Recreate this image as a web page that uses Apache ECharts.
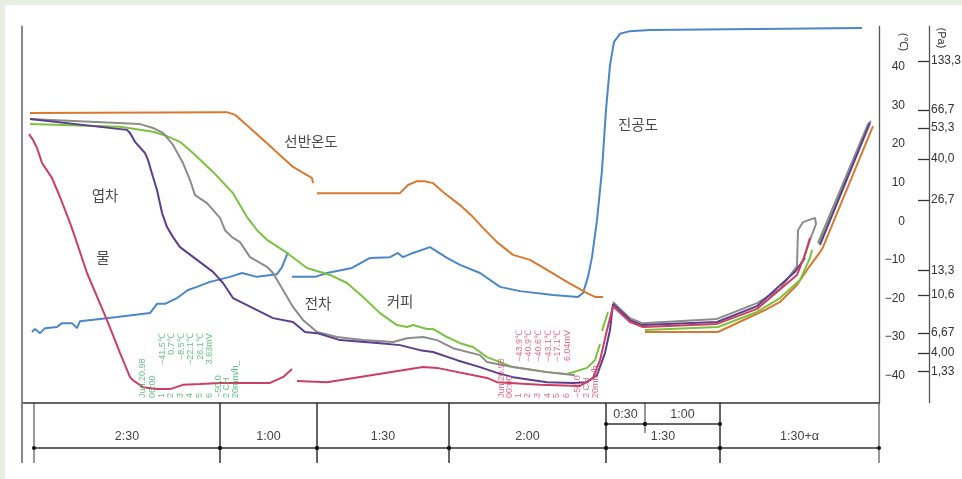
<!DOCTYPE html>
<html><head><meta charset="utf-8">
<script src="https://cdn.jsdelivr.net/npm/echarts@6/dist/echarts.min.js"></script>
<style>
html,body{margin:0;padding:0;background:#e9eee3;overflow:hidden;}
#panel{position:absolute;left:5px;top:5px;right:0;bottom:0;background:#fff;}
#chart{position:absolute;left:0;top:0;width:962px;height:479px;}
</style></head><body>
<div id="panel"></div><div id="chart"></div>
<script>
// ---- data (x: position along the process axis, y: temperature-equivalent in °C) ----
const shelfTemp = [[8,28.1],[205,28.3],[213,27.6],[228,24.2],[248,19.5],[271,14.1],[285,12.0],[290,11.2],[291,9.9],null,
  [295,7.3],[378,7.3],[386,9.4],[395,10.4],[403,10.4],[411,9.9],[421,7.6],[438,4.2],[451,1.1],[461,-1.7],[475,-5.4],[491,-8.7],[508,-10.0],[525,-12.6],[545,-15.7],[565,-18.6],[573,-19.6],[581,-19.6],null,
  [623,-28.7],[696,-28.7],[743,-23.0],[758,-20.9],[775,-16.5],[785,-12.6],[798,-8.0],[801,-6.7],[851,24.7]];
const vacuum = [[10,-28.7],[13,-27.9],[18,-29.0],[23,-27.7],[35,-27.4],[40,-26.4],[50,-26.4],[55,-27.7],[58,-25.9],[78,-25.3],[95,-24.8],[128,-23.8],[135,-21.4],[143,-21.4],[155,-19.9],[166,-17.8],[175,-17.0],[188,-15.7],[208,-14.4],[220,-13.4],[235,-14.4],[255,-13.7],[260,-11.9],[266,-8.0],null,
  [270,-14.4],[293,-14.4],[305,-13.4],[330,-12.1],[348,-9.5],[368,-9.3],[376,-8.2],[381,-9.3],[391,-8.2],[408,-6.7],[425,-9.5],[438,-11.3],[458,-13.4],[478,-17.0],[498,-18.1],[531,-19.1],[556,-19.6],[561,-18.6],[566,-14.4],[570,-9.3],[575,0.3],[580,13.3],[584,28.9],[588,40.5],[592,46.5],[598,48.6],[608,49.3],[628,49.6],[840,50.1]];
const water = [[7,22.6],[11,21.1],[15,19.0],[18,16.7],[20,15.1],[26,12.8],[30,11.2],[38,6.3],[48,-0.4],[53,-4.1],[65,-13.4],[85,-25.6],[98,-34.1],[108,-40.4],[111,-41.2],[121,-43.0],[135,-43.5],[148,-43.5],[161,-42.4],[178,-42.2],[198,-41.9],[248,-41.9],[261,-40.4],[270,-38.3],null,
  [275,-41.4],[305,-41.7],[401,-37.8],[415,-38.0],[465,-40.6],[475,-41.7],[518,-42.4],[558,-42.7],[571,-40.6],[578,-36.0],[585,-28.2],[591,-22.0],
  [608,-26.1],[621,-27.4],[695,-26.6],[735,-22.7],[775,-13.9],[783,-8.7],[788,-4.3]];
const leafTea = [[8,26.5],[105,23.7],[108,22.9],[113,20.6],[123,17.7],[126,15.9],[131,11.5],[135,8.1],[140,2.2],[145,-1.5],[151,-4.1],[158,-6.7],[175,-10.0],[191,-13.1],[201,-16.0],[211,-19.9],[231,-22.5],[251,-25.1],[271,-26.1],[283,-28.7],[295,-29.0],[318,-30.8],[358,-31.6],[378,-32.1],[398,-33.4],[411,-33.9],[435,-36.0],[458,-37.8],[475,-39.3],[491,-40.4],[525,-41.7],[551,-41.9],[565,-41.7],[575,-39.9],[583,-34.1],[588,-28.2],[591,-21.4],
  [608,-25.6],[620,-26.9],[695,-26.1],[735,-22.0],[773,-13.1],[783,-9.5],null,[798,-6.1],[848,25.5]];
const greenTea = [[8,26.5],[118,25.2],[131,24.2],[141,22.9],[151,19.8],[161,15.1],[168,10.7],[173,6.8],[185,4.7],[198,0.9],[203,-2.3],[210,-4.1],[218,-5.4],[228,-9.3],[245,-11.8],[251,-13.4],[261,-17.8],[271,-22.2],[281,-25.6],[295,-28.7],[315,-30.0],[341,-30.8],[371,-31.3],[385,-30.3],[401,-30.0],[415,-30.8],[431,-32.9],[458,-34.7],[465,-36.5],[491,-37.8],[525,-39.1],[553,-39.9],null,
  [591,-20.9],[608,-25.1],[620,-26.4],[695,-25.3],[735,-21.2],[758,-17.6],[775,-11.6],[776,-2.3],[781,-0.2],[793,0.9],[794,-0.7],[788,-4.8],[782,-9.3],null,[796,-5.6],[846,25.2],[849,26.0]];
const coffee = [[8,25.2],[98,24.5],[131,23.2],[145,22.1],[158,20.6],[171,17.7],[191,12.8],[211,7.3],[225,1.1],[235,-2.3],[245,-4.8],[265,-8.2],[285,-12.1],[308,-13.9],[325,-16.0],[341,-19.6],[358,-23.8],[375,-26.9],[385,-27.4],[391,-26.9],[405,-27.9],[411,-27.9],[425,-30.0],[438,-31.6],[451,-32.6],[465,-35.2],[491,-37.8],[525,-39.1],[545,-39.6],[565,-38.0],[573,-36.0],[578,-31.8],null,
  [580,-28.4],[586,-23.5],null,[623,-28.2],[696,-27.4],[735,-23.5],[758,-19.9],[778,-15.2],[788,-9.5],[790,-7.4],null,[797,-5.9],[847,25.2]];

const tempTicks = [-40,-30,-20,-10,0,10,20,30,40];
const paLabels = ['133,3','66,7','53,3','40,0','26,7','13,3','10,6','6,67','4,00','1,33'];
const paTickAt = [41.6,28.9,24.2,16.2,5.5,-12.7,-19.1,-29.0,-34.1,-39.0];

const noteNames = ['선반온도','진공도','엽차','물','전차','커피'];
const noteX = [289,616,83,81,296,378];
const noteT = [20.8,25.0,6.8,-9.5,-21.2,-20.7];

const greenTopText = ['−41.5℃','0.7℃','−8.5℃','−22.1℃','26.1℃','3.63mV'];
const greenTopX = [141,150,160,169,179,188];
const greenTopT = -29.0;
const greenBottomText = ['Jun.20.98','06:00','1','2','3','4','5','6','−50.0','2 CH','20mm/h_'];
const greenBottomX = [121,131,140,149,159,168,178,188,197,205,214];
const redTopText = ['−43.9℃','−40.9℃','−40.6℃','−43.1℃','−17.1℃','6.04mV'];
const redTopX = [498,507,517,527,536,546];
const redTopT = -28.2;
const redBottomText = ['Jun.20.98','00:00','1','2','3','4','5','6','−50.0','2 CH','20mm/h'];
const redBottomX = [480,488,497,506,516,526,535,545,556,565,574];
const stampBottomT = -45.8;

const timelineBounds = [12,198,295,427,584,698,857];
const timelineLabels = ['2:30','1:00','1:30','2:00','1:30','1:30+α'];
const subBounds = [584,623,698];
const subLabels = ['0:30','1:00'];

// ---- chart ----
const NARROW = '"Liberation Sans Narrow","Arial Narrow","Liberation Sans",Arial,sans-serif';
const KR = '"Noto Sans CJK KR","Noto Sans",sans-serif';
const X_MAX = 857;
const brk = d => d.map(p => p === null ? ['-','-'] : p);
function lineSeries(name, data, color) {
  return {name, type:'line', data: brk(data), xAxisIndex:0, yAxisIndex:0, showSymbol:false, symbol:'none',
    connectNulls:false, clip:false, lineStyle:{color, width:2}, silent:true};
}
function stamp(texts, xs, t, color, align) {
  return {type:'scatter', xAxisIndex:0, yAxisIndex:0, symbolSize:0.1, silent:true, z:6,
    itemStyle:{color:'rgba(0,0,0,0)'},
    data: texts.map((s,i)=>({name:s, value:[xs[i], t]})),
    label:{show:true, position:'inside', formatter:'{b}', rotate:90, align, verticalAlign:'middle',
      fontSize:9, color, fontFamily:'Arial, "Liberation Sans", sans-serif'}};
}
const MAIN_V = 0.248, LABEL_V = 0.43, SUB_V = 0.646, SUBLABEL_V = 0.80, SUBTICK_V = 0.497;
const ink = '#333';
const mainSegs = timelineLabels.map((l,i)=>[timelineBounds[i], timelineBounds[i+1]]);
const subSegs = subLabels.map((l,i)=>[subBounds[i], subBounds[i+1]]);

const chart = echarts.init(document.getElementById('chart'), null, {renderer:'canvas'});
chart.setOption({
  animation:false,
  backgroundColor:'transparent',
  grid:[
    {left:22, right:83, top:26.5, height:376.1, outerBoundsMode:'none', containLabel:false},
    {left:22, right:83, top:402.6, height:60.4, outerBoundsMode:'none', containLabel:false}
  ],
  xAxis:[
    {type:'value', gridIndex:0, min:0, max:X_MAX, axisLine:{show:true, onZero:false, lineStyle:{color:ink, width:1.5}},
      axisTick:{show:false}, axisLabel:{show:false}, splitLine:{show:false}},
    {type:'value', gridIndex:1, min:0, max:X_MAX, show:false}
  ],
  yAxis:[
    {type:'value', gridIndex:0, position:'right', min:-47, max:50.5,
      axisLine:{show:true, onZero:false, lineStyle:{color:'#555', width:1.3}},
      axisTick:{show:false}, splitLine:{show:false},
      axisLabel:{show:true, customValues:tempTicks, align:'right', margin:26, fontSize:12, color:'#333',
        fontFamily:NARROW, formatter:v=>String(v).replace('-','−')}},
    {type:'value', gridIndex:0, position:'right', offset:50, min:-47, max:50.5,
      axisLine:{show:true, onZero:false, lineStyle:{color:'#555', width:1.3}},
      axisTick:{show:true, inside:true, length:11, customValues:paTickAt, lineStyle:{color:'#333', width:1.3}},
      splitLine:{show:false},
      axisLabel:{show:true, customValues:paTickAt, margin:2, fontSize:12, color:'#333', fontFamily:NARROW,
        formatter:v=>{let b=0; paTickAt.forEach((p,i)=>{ if(Math.abs(p-v)<Math.abs(paTickAt[b]-v)) b=i; }); return paLabels[b];}}},
    {type:'value', gridIndex:0, position:'left', min:-47, max:50.5,
      axisLine:{show:true, onZero:false, lineStyle:{color:'#888', width:2}},
      axisTick:{show:false}, axisLabel:{show:false}, splitLine:{show:false}},
    {type:'value', gridIndex:1, min:0, max:1, show:false}
  ],
  graphic:[
    {type:'text', x:903, y:42, rotation:-Math.PI/2, style:{text:'(℃)', align:'center', verticalAlign:'middle', fontSize:11, fill:'#333', fontFamily:NARROW}},
    {type:'text', x:941, y:38, rotation:-Math.PI/2, style:{text:'(Pa)', align:'center', verticalAlign:'middle', fontSize:11, fill:'#333', fontFamily:NARROW}}
  ],
  series:[
    lineSeries('진공도', vacuum, '#4b86c8'),
    lineSeries('선반온도', shelfTemp, '#d9792f'),
    lineSeries('커피', coffee, '#7cc242'),
    lineSeries('전차', greenTea, '#8c8c8c'),
    lineSeries('엽차', leafTea, '#5b3f8c'),
    lineSeries('물', water, '#cd3f62'),
    {type:'scatter', xAxisIndex:0, yAxisIndex:0, symbolSize:0.1, silent:true, z:6,
      itemStyle:{color:'rgba(0,0,0,0)'},
      data: noteNames.map((n,i)=>({name:n, value:[noteX[i], noteT[i]]})),
      label:{show:true, position:'inside', formatter:'{b}', fontSize:14.5, color:'#1a1a1a', fontFamily:KR}},
    stamp(greenTopText, greenTopX, greenTopT, '#3daf68', 'right'),
    stamp(greenBottomText, greenBottomX, stampBottomT, '#3daf68', 'left'),
    stamp(redTopText, redTopX, redTopT, '#d4486e', 'right'),
    stamp(redBottomText, redBottomX, stampBottomT, '#d4486e', 'left'),
    {type:'custom', xAxisIndex:1, yAxisIndex:3, silent:true, clip:false, data:[[0]],
      renderItem:(params, api)=>{
        const a=api.coord([api.value(0),1]), b=api.coord([api.value(0),0]);
        return {type:'line', shape:{x1:a[0],y1:a[1],x2:b[0],y2:b[1]}, style:{stroke:'#888', lineWidth:2}};
      }},
    {type:'custom', xAxisIndex:1, yAxisIndex:3, silent:true, clip:false, data:mainSegs,
      renderItem:(params, api)=>{
        const x0=api.value(0), x1=api.value(1);
        const t0=api.coord([x0,1]), b0=api.coord([x0,0]), t1=api.coord([x1,1]), b1=api.coord([x1,0]);
        const m0=api.coord([x0,MAIN_V]), m1=api.coord([x1,MAIN_V]);
        const lp=api.coord([(x0+x1)/2, LABEL_V]);
        const st={stroke:ink, lineWidth:1};
        return {type:'group', children:[
          {type:'line', shape:{x1:t0[0],y1:t0[1],x2:b0[0],y2:b0[1]}, style:st},
          {type:'line', shape:{x1:t1[0],y1:t1[1],x2:b1[0],y2:b1[1]}, style:st},
          {type:'line', shape:{x1:m0[0],y1:m0[1],x2:m1[0],y2:m1[1]}, style:{stroke:ink, lineWidth:1.3}},
          {type:'circle', shape:{cx:m0[0],cy:m0[1],r:2}, style:{fill:'#111'}},
          {type:'circle', shape:{cx:m1[0],cy:m1[1],r:2}, style:{fill:'#111'}},
          {type:'text', x:lp[0], y:lp[1], style:{text:timelineLabels[params.dataIndex], align:'center', verticalAlign:'middle',
            fontSize:12.5, fill:'#444', fontFamily:NARROW}}
        ]};
      }},
    {type:'custom', xAxisIndex:1, yAxisIndex:3, silent:true, clip:false, data:subSegs,
      renderItem:(params, api)=>{
        const x0=api.value(0), x1=api.value(1);
        const m0=api.coord([x0,SUB_V]), m1=api.coord([x1,SUB_V]);
        const lp=api.coord([(x0+x1)/2, SUBLABEL_V]);
        const kids=[
          {type:'line', shape:{x1:m0[0],y1:m0[1],x2:m1[0],y2:m1[1]}, style:{stroke:ink, lineWidth:1.3}},
          {type:'circle', shape:{cx:m0[0],cy:m0[1],r:2}, style:{fill:'#111'}},
          {type:'circle', shape:{cx:m1[0],cy:m1[1],r:2}, style:{fill:'#111'}},
          {type:'text', x:lp[0], y:lp[1], style:{text:subLabels[params.dataIndex], align:'center', verticalAlign:'middle',
            fontSize:12.5, fill:'#444', fontFamily:NARROW}}
        ];
        if (params.dataIndex === 0) {
          const t=api.coord([x1,1]), b=api.coord([x1,SUBTICK_V]);
          kids.push({type:'line', shape:{x1:t[0],y1:t[1],x2:b[0],y2:b[1]}, style:{stroke:ink, lineWidth:1}});
        }
        return {type:'group', children:kids};
      }}
  ]
});
</script></body></html>
